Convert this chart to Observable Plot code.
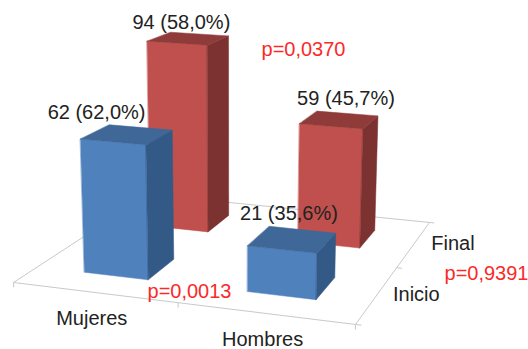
<!DOCTYPE html>
<html>
<head>
<meta charset="utf-8">
<style>
  html, body { margin: 0; padding: 0; background: #fff; }
  svg { display: block; }
</style>
<script src="https://cdn.jsdelivr.net/npm/d3@7"></script>
<script src="https://cdn.jsdelivr.net/npm/@observablehq/plot@0.6"></script>
</head>
<body>
<div id="chart"></div>
<script>
// Counts per group and time point
const categories = ["Mujeres", "Hombres"];
const series = ["Inicio", "Final"];
const inicio = [62, 21];
const final = [94, 59];
const inicioPct = ["62,0%", "35,6%"];
const finalPct = ["58,0%", "45,7%"];
const pValues = ["p=0,0013", "p=0,9391", "p=0,0370"];

// Camera matrix: floor (u, v in 0..1) and value height z to page pixels
function project(u, v, z = 0) {
  const w = 1 - 0.0724 * u + 0.2362 * v - 0.00043 * z;
  return [
    (316.3 * u + 170 * v + 13 - 0.1 * z) / w,
    (18.5 * u - 42.2 * v + 282 - 2.26 * z) / w
  ];
}

const barHalf = 0.1;
const uCentre = (i) => (i + 0.5) / categories.length;
const vCentre = (j) => (j + 0.5) / series.length;

const palette = {
  Inicio: {front: "#4f81bd", side: "#335a86", top: "#3f6797"},
  Final: {front: "#c0504d", side: "#7b3231", top: "#8e3b39"}
};

// One closed polygon per visible face of a bar
function barFaces(i, j, value) {
  const name = series[j];
  const u0 = uCentre(i) - barHalf, u1 = uCentre(i) + barHalf;
  const v0 = vCentre(j) - barHalf, v1 = vCentre(j) + barHalf;
  const faces = {
    front: [[u0, v0, 0], [u1, v0, 0], [u1, v0, value], [u0, v0, value]],
    side: [[u1, v0, 0], [u1, v1, 0], [u1, v1, value], [u1, v0, value]],
    top: [[u0, v0, value], [u1, v0, value], [u1, v1, value], [u0, v1, value]]
  };
  return Object.entries(faces).flatMap(([face, corners]) =>
    corners.map((c) => {
      const [x, y] = project(...c);
      return {x, y, id: `${name}-${i}-${face}`, color: palette[name][face]};
    })
  );
}

// Back row first so the front row paints over it
const polygons = [
  ...final.flatMap((value, i) => barFaces(i, 1, value)),
  ...inicio.flatMap((value, i) => barFaces(i, 0, value))
];

// Floor outline and its tick marks
const floorCorners = [[0, 0], [1, 0], [1, 1], [0, 1], [0, 0]];
const floorLine = floorCorners.map(([u, v]) => {
  const [x, y] = project(u, v);
  return {x, y};
});
const tickSegments = [
  ...[0, 0.5, 1].map((u) => [project(u, 0), project(u, 0, -2.2)]),
  ...[0, 0.5, 1].map((v) => [project(1, v), project(1.016, v)])
].map(([a, b]) => ({x1: a[0], y1: a[1], x2: b[0], y2: b[1]}));

// Value labels above each bar, nudged clear of the neighbouring bars
const valueLabels = [
  {i: 0, j: 0, value: inicio[0], pct: inicioPct[0], dx: -30.5, dy: -22},
  {i: 1, j: 0, value: inicio[1], pct: inicioPct[1], dx: -3.4, dy: -26},
  {i: 0, j: 1, value: final[0], pct: finalPct[0], dx: -7, dy: -16},
  {i: 1, j: 1, value: final[1], pct: finalPct[1], dx: 6.7, dy: -21.5}
].map((d) => {
  const [x, y] = project(uCentre(d.i), vCentre(d.j), d.value);
  return {x: x + d.dx, y: y + d.dy, text: `${d.value} (${d.pct})`};
});

const categoryLabels = categories.map((text, i) => {
  const [x, y] = project(uCentre(i), 0);
  return {x: x - 2.5, y: y + 26.5, text};
});
const seriesLabels = series.map((text, j) => {
  const [x, y] = project(1, vCentre(j));
  return {x: x + 39, y, text};
});
const pLabels = [
  {x: 189, y: 291, text: pValues[0]},
  {x: 486, y: 273, text: pValues[1]},
  {x: 303, y: 49, text: pValues[2]}
];

const textStyle = {
  x: "x", y: "y", text: "text",
  textAnchor: "middle", lineAnchor: "middle",
  fontFamily: "Liberation Sans", fontSize: 20
};

const chart = Plot.plot({
  width: 528,
  height: 349,
  margin: 0,
  x: {domain: [0, 528], range: [0, 528], axis: null},
  y: {domain: [0, 349], range: [0, 349], axis: null},
  color: {type: "identity"},
  style: {background: "#fff"},
  marks: [
    Plot.line(floorLine, {x: "x", y: "y", stroke: "#c9c9c9", strokeWidth: 1}),
    Plot.link(tickSegments, {x1: "x1", y1: "y1", x2: "x2", y2: "y2", stroke: "#c9c9c9", strokeWidth: 1}),
    Plot.line(polygons, {
      x: "x", y: "y", z: "id",
      fill: "color", stroke: "color", strokeWidth: 0.5,
      curve: "linear-closed"
    }),
    Plot.text(categoryLabels, {...textStyle, fill: "#222"}),
    Plot.text(seriesLabels, {...textStyle, fill: "#222"}),
    Plot.text(valueLabels, {...textStyle, fill: "#222"}),
    Plot.text(pLabels, {...textStyle, fill: "#fa2a2a"})
  ]
});
document.getElementById("chart").appendChild(chart);
</script>
</body>
</html>
